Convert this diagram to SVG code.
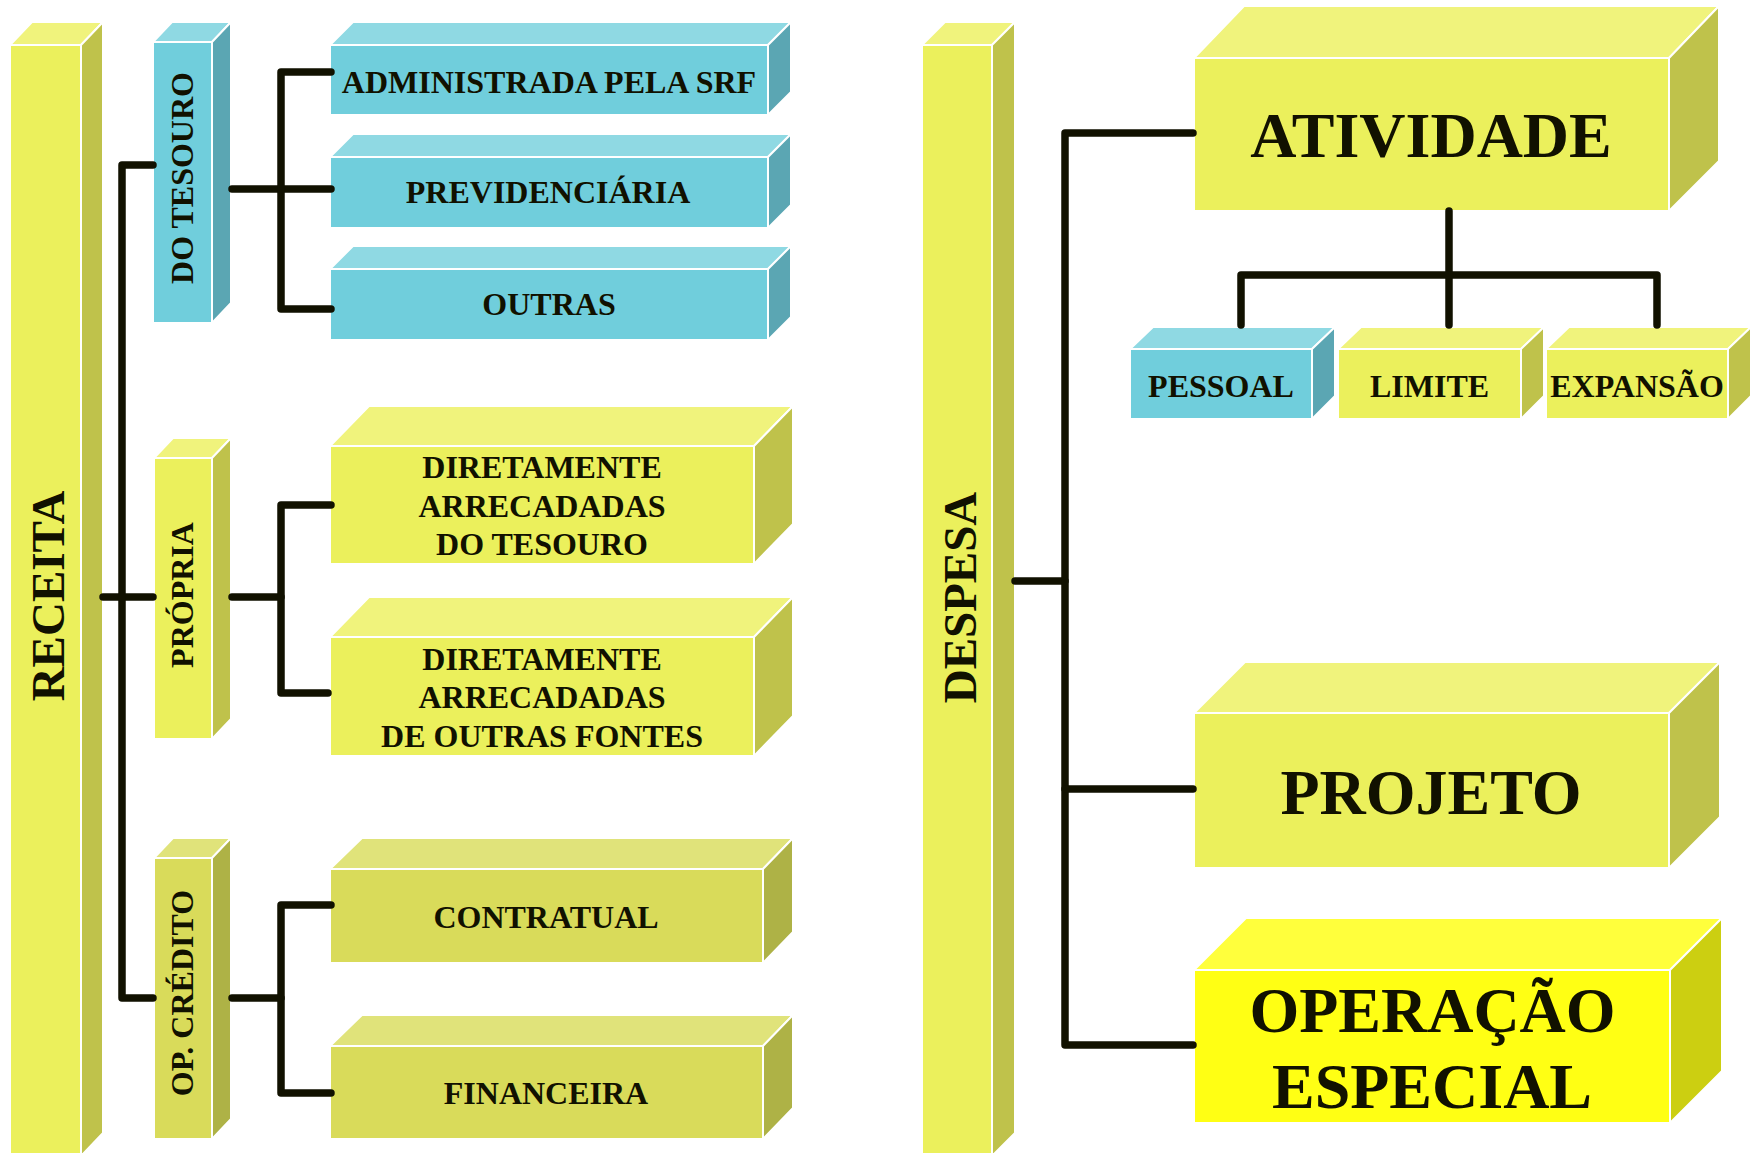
<svg xmlns="http://www.w3.org/2000/svg" width="1757" height="1153" viewBox="0 0 1757 1153">
<style>
.f{stroke:#fff;stroke-width:2}
.yf{fill:#EBF05C}.yt{fill:#F0F37C}.ys{fill:#BFC24B}
.cf{fill:#70CEDC}.ct{fill:#8FD9E3}.cs{fill:#5BA6B3}
.of{fill:#D9DB5A}.ot{fill:#E0E37A}.os{fill:#AEB246}
.sf{fill:#FFFF14}.st{fill:#FFFF3C}.ss{fill:#CCCF11}
text{font-family:"Liberation Serif","Times New Roman",serif;font-weight:bold;fill:#111100;text-anchor:middle}
.m{font-size:32px}.b{font-size:47px}.g{font-size:64px}
.conn{fill:none;stroke:#111100;stroke-width:7.5;stroke-linecap:round;stroke-linejoin:round}
</style>

<g id="receita">
<polygon class="f yt" points="10,45 32,22 103,22 81,45"/>
<polygon class="f ys" points="81,45 103,22 103,1133 81,1156"/>
<rect class="f yf" x="10" y="45" width="71" height="1111"/>
<text class="b" transform="translate(48.5,596) rotate(-90)" y="15.5">RECEITA</text>
</g>

<g id="do-tesouro">
<polygon class="f ct" points="153,42 172,22 231,22 212,42"/>
<polygon class="f cs" points="212,42 231,22 231,303 212,323"/>
<rect class="f cf" x="153" y="42" width="59" height="281"/>
<text class="m" transform="translate(182.5,178) rotate(-90)" y="10.5">DO TESOURO</text>
</g>

<g id="propria">
<polygon class="f yt" points="154,458 173,438 231,438 212,458"/>
<polygon class="f ys" points="212,458 231,438 231,719 212,739"/>
<rect class="f yf" x="154" y="458" width="58" height="281"/>
<text class="m" transform="translate(182,595) rotate(-90)" y="10.5">PRÓPRIA</text>
</g>

<g id="op-credito">
<polygon class="f ot" points="154,858 173,838 231,838 212,858"/>
<polygon class="f os" points="212,858 231,838 231,1119 212,1139"/>
<rect class="f of" x="154" y="858" width="58" height="281"/>
<text class="m" transform="translate(182,993) rotate(-90)" y="10.5">OP. CRÉDITO</text>
</g>

<g id="administrada">
<polygon class="f ct" points="330,45 353,22 791,22 768,45"/>
<polygon class="f cs" points="768,45 791,22 791,92 768,115"/>
<rect class="f cf" x="330" y="45" width="438" height="70"/>
<text class="m" x="549" y="93">ADMINISTRADA PELA SRF</text>
</g>

<g id="previdenciaria">
<polygon class="f ct" points="330,157 353,134 791,134 768,157"/>
<polygon class="f cs" points="768,157 791,134 791,205 768,228"/>
<rect class="f cf" x="330" y="157" width="438" height="71"/>
<text class="m" x="548" y="203">PREVIDENCIÁRIA</text>
</g>

<g id="outras">
<polygon class="f ct" points="330,269 353,246 791,246 768,269"/>
<polygon class="f cs" points="768,269 791,246 791,317 768,340"/>
<rect class="f cf" x="330" y="269" width="438" height="71"/>
<text class="m" x="549" y="315">OUTRAS</text>
</g>

<g id="diretamente-tesouro">
<polygon class="f yt" points="330,446 369,406 793,406 754,446"/>
<polygon class="f ys" points="754,446 793,406 793,524 754,564"/>
<rect class="f yf" x="330" y="446" width="424" height="118"/>
<text class="m" x="542" y="478">DIRETAMENTE</text>
<text class="m" x="542" y="517">ARRECADADAS</text>
<text class="m" x="542" y="555">DO TESOURO</text>
</g>

<g id="diretamente-outras">
<polygon class="f yt" points="330,637 369,597 793,597 754,637"/>
<polygon class="f ys" points="754,637 793,597 793,716 754,756"/>
<rect class="f yf" x="330" y="637" width="424" height="119"/>
<text class="m" x="542" y="670">DIRETAMENTE</text>
<text class="m" x="542" y="708">ARRECADADAS</text>
<text class="m" x="542" y="747">DE OUTRAS FONTES</text>
</g>

<g id="contratual">
<polygon class="f ot" points="330,869 362,838 793,838 763,869"/>
<polygon class="f os" points="763,869 793,838 793,932 763,963"/>
<rect class="f of" x="330" y="869" width="433" height="94"/>
<text class="m" x="546" y="928">CONTRATUAL</text>
</g>

<g id="financeira">
<polygon class="f ot" points="330,1046 362,1015 793,1015 763,1046"/>
<polygon class="f os" points="763,1046 793,1015 793,1108 763,1139"/>
<rect class="f of" x="330" y="1046" width="433" height="93"/>
<text class="m" x="546" y="1104">FINANCEIRA</text>
</g>

<g id="despesa">
<polygon class="f yt" points="922,45 945,22 1015,22 992,45"/>
<polygon class="f ys" points="992,45 1015,22 1015,1133 992,1156"/>
<rect class="f yf" x="922" y="45" width="70" height="1111"/>
<text class="b" transform="translate(960.5,597.5) rotate(-90)" y="15.5">DESPESA</text>
</g>

<g id="atividade">
<polygon class="f yt" points="1194,58 1244,6 1719,6 1669,58"/>
<polygon class="f ys" points="1669,58 1719,6 1719,161 1669,211"/>
<rect class="f yf" x="1194" y="58" width="475" height="153"/>
<text class="g" x="1431" y="157">ATIVIDADE</text>
</g>

<g id="pessoal">
<polygon class="f ct" points="1130,349 1153,327 1335,327 1312,349"/>
<polygon class="f cs" points="1312,349 1335,327 1335,396 1312,419"/>
<rect class="f cf" x="1130" y="349" width="182" height="70"/>
<text class="m" x="1221" y="397">PESSOAL</text>
</g>

<g id="limite">
<polygon class="f yt" points="1338,349 1361,327 1544,327 1521,349"/>
<polygon class="f ys" points="1521,349 1544,327 1544,396 1521,419"/>
<rect class="f yf" x="1338" y="349" width="183" height="70"/>
<text class="m" x="1429.5" y="397">LIMITE</text>
</g>

<g id="expansao">
<polygon class="f yt" points="1546,349 1569,327 1751,327 1728,349"/>
<polygon class="f ys" points="1728,349 1751,327 1751,396 1728,419"/>
<rect class="f yf" x="1546" y="349" width="182" height="70"/>
<text class="m" x="1637" y="397">EXPANSÃO</text>
</g>

<g id="projeto">
<polygon class="f yt" points="1194,713 1245,662 1720,662 1669,713"/>
<polygon class="f ys" points="1669,713 1720,662 1720,817 1669,868"/>
<rect class="f yf" x="1194" y="713" width="475" height="155"/>
<text class="g" x="1431" y="814">PROJETO</text>
</g>

<g id="operacao-especial">
<polygon class="f st" points="1194,970 1246,918 1722,918 1670,970"/>
<polygon class="f ss" points="1670,970 1722,918 1722,1071 1670,1123"/>
<rect class="f sf" x="1194" y="970" width="476" height="153"/>
<text class="g" x="1432.5" y="1032">OPERAÇÃO</text>
<text class="g" x="1432" y="1108">ESPECIAL</text>
</g>

<g id="connectors" class="conn">
<path d="M103,597 H153"/>
<path d="M153,165 H122 V998 H153"/>
<path d="M232,189 H331"/>
<path d="M331,72 H281 V309 H331"/>
<path d="M232,597 H281"/>
<path d="M331,505 H281 V693 H328"/>
<path d="M232,998 H281"/>
<path d="M331,905 H281 V1093 H331"/>
<path d="M1015,581 H1065"/>
<path d="M1193,133 H1065 V1045 H1193"/>
<path d="M1065,789 H1193"/>
<path d="M1449,211 V325"/>
<path d="M1241,325 V275 H1657 V325"/>
</g>
</svg>
